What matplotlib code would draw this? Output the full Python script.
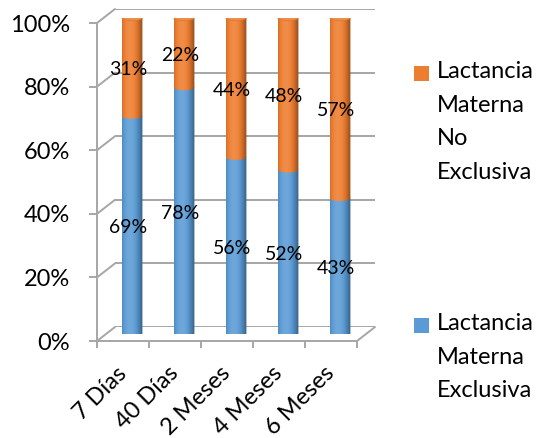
import numpy as np
import matplotlib
matplotlib.use("Agg")
import matplotlib.pyplot as plt
import matplotlib.colors as mcolors
from matplotlib.patches import Ellipse, PathPatch, Rectangle, ConnectionPatch
from matplotlib.path import Path
from matplotlib.transforms import Affine2D

categories = ["7 Días", "40 Días", "2 Meses", "4 Meses", "6 Meses"]
exclusiva = [69, 78, 56, 52, 43]
no_exclusiva = [31, 22, 44, 48, 57]
series_names = ["Lactancia\nMaterna\nNo\nExclusiva", "Lactancia\nMaterna\nExclusiva"]
y_ticks = [0, 20, 40, 60, 80, 100]

BLUE = "#5B9BD5"
ORANGE = "#ED7D31"
GRID = "#A6A6A6"
FONT = "Lato"

plt.rcParams["font.family"] = [FONT, "DejaVu Sans"]

W, H = 541, 438
fig = plt.figure(figsize=(W / 100, H / 100), dpi=100)


def px_axes(left, top, right, bottom):
    """Axes placed by a pixel box measured from the top-left corner."""
    return fig.add_axes([left / W, (H - bottom) / H, (right - left) / W, (bottom - top) / H])


# three planes of the pseudo-3D box: back wall, cylinder plane, front edge
ax_back = px_axes(115, 9, 375, 327)
ax_mid = px_axes(106, 17.5, 366, 334)
ax_front = px_axes(97, 23, 357, 341)
for z, a in enumerate((ax_back, ax_mid, ax_front)):
    a.set_xlim(-0.5, len(categories) - 0.5)
    a.set_ylim(0, 100)
    a.patch.set_visible(False)
    a.set_zorder(z)

# back wall gridlines
ax_back.hlines(y_ticks, -0.5, len(categories) - 0.5, color=GRID, lw=1.4)
ax_back.axis("off")

# side wall and floor edges joining the front and back planes
for v in y_ticks:
    fig.add_artist(ConnectionPatch((-0.5, v), (-0.5, v), coordsA=ax_front.transData,
                                   coordsB=ax_back.transData, color=GRID, lw=1.4))
fig.add_artist(ConnectionPatch((len(categories) - 0.5, 0), (len(categories) - 0.5, 0),
                               coordsA=ax_front.transData, coordsB=ax_back.transData,
                               color=GRID, lw=1.4))

# front axes: y axis with percent labels, category axis
for s in ("top", "right"):
    ax_front.spines[s].set_visible(False)
for s in ("left", "bottom"):
    ax_front.spines[s].set_color(GRID)
    ax_front.spines[s].set_linewidth(1.4)
ax_front.set_yticks(y_ticks)
ax_front.set_yticklabels([f"{v}%" for v in y_ticks])
ax_front.tick_params(axis="y", length=5.8, width=1.4, color=GRID, pad=13.5,
                     labelsize=17, labelcolor="black")
ax_front.set_xticks(np.arange(-0.5, len(categories)), labels=[""] * (len(categories) + 1))
ax_front.tick_params(axis="x", which="major", length=5, width=1.4, color=GRID)
ax_front.set_xticks(np.arange(len(categories)), labels=categories, minor=True)
ax_front.tick_params(axis="x", which="minor", length=0, pad=21, labelsize=17,
                     labelcolor="black", labelrotation=45)
for lbl in ax_front.get_xticklabels(minor=True):
    lbl.set_ha("right")
    lbl.set_va("center")
    lbl.set_rotation_mode("anchor")

# cylinders
CW = 0.40   # cylinder width in category units
EH = 2.0    # ellipse height in percent units


def shade_row(base, n=90):
    t = np.linspace(0, 1, n)
    f = 0.72 + 0.40 * np.cos((t - 0.38) * np.pi * 0.95)
    c = np.array(mcolors.to_rgb(base))
    f = f[:, None]
    out = np.where(f >= 1, c + (1 - c) * (f - 1), c * f)
    return np.clip(out, 0, 1)[None, :, :]


def lighten(base, k):
    c = np.array(mcolors.to_rgb(base))
    return tuple(c + (1 - c) * k)


def darken(base, k):
    c = np.array(mcolors.to_rgb(base))
    return tuple(c * (1 - k))


def segment(ax, x, y0, y1, base, z):
    th = np.linspace(np.pi, 2 * np.pi, 40)
    xs = x + CW / 2 * np.cos(th)
    ys = y0 + EH / 2 * np.sin(th)
    verts = list(zip(xs, ys)) + [(x + CW / 2, y1), (x - CW / 2, y1), (xs[0], ys[0])]
    patch = PathPatch(Path(np.array(verts), closed=True), facecolor="none",
                      edgecolor="none", transform=ax.transData)
    ax.add_patch(patch)
    im = ax.imshow(shade_row(base), extent=[x - CW / 2, x + CW / 2, y0 - EH, y1 + EH],
                   aspect="auto", interpolation="bilinear", zorder=z)
    im.set_clip_path(patch)


for i, (b, o) in enumerate(zip(exclusiva, no_exclusiva)):
    segment(ax_mid, i, 0, b, BLUE, 2)
    segment(ax_mid, i, b, b + o, ORANGE, 3)
    ax_mid.add_patch(Ellipse((i, b + o), CW, EH, facecolor=lighten(ORANGE, 0.12),
                             edgecolor=darken(ORANGE, 0.05), lw=0.6, zorder=4))

ax_mid.set_xlim(-0.5, len(categories) - 0.5)
ax_mid.set_ylim(0, 100)
ax_mid.axis("off")

# value labels at the middle of each segment
lbl_tr = ax_mid.transData + Affine2D().translate(-4, -3)
for i, (b, o) in enumerate(zip(exclusiva, no_exclusiva)):
    ax_mid.text(i, b / 2, f"{b}%", transform=lbl_tr, ha="center", va="center",
                fontsize=14, color="black", zorder=5)
    ax_mid.text(i, b + o / 2, f"{o}%", transform=lbl_tr, ha="center", va="center",
                fontsize=14, color="black", zorder=5)

# legend
for name, color, top in ((series_names[0], ORANGE, 66), (series_names[1], BLUE, 318)):
    fig.add_artist(Rectangle((414 / W, (H - top - 15) / H), 15 / W, 15 / H,
                             transform=fig.transFigure, facecolor=color, edgecolor="none"))
    fig.text(437 / W, (H - top + 5) / H, name, ha="left", va="top", fontsize=17,
             linespacing=1.74, color="black")

fig.savefig("out.png", dpi=100)
